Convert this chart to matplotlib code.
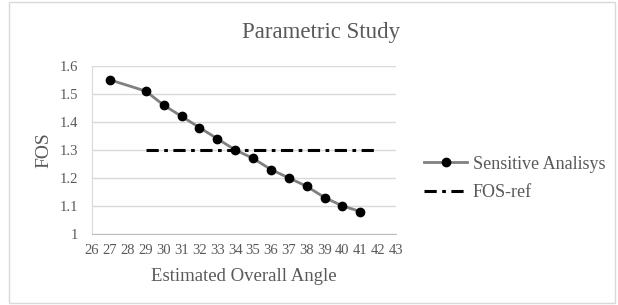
import matplotlib.pyplot as plt
import numpy as np

plt.rcParams['font.family'] = ['Liberation Serif', 'DejaVu Serif']

# Sensitive analysis values
angle = [27, 29, 30, 31, 32, 33, 34, 35, 36, 37, 38, 39, 40, 41]
fos = [1.55, 1.51, 1.46, 1.42, 1.38, 1.34, 1.30, 1.27, 1.23, 1.20, 1.17, 1.13, 1.10, 1.08]

# reference FOS line
ref_angle = [29, 42]
ref_fos = [1.3, 1.3]

xticks = np.arange(26, 44, 1)
yticks = [1, 1.1, 1.2, 1.3, 1.4, 1.5, 1.6]
ytick_labels = ["1", "1.1", "1.2", "1.3", "1.4", "1.5", "1.6"]

fig = plt.figure(figsize=(6.18, 3.05), dpi=100)
ax = fig.add_axes([0.149, 0.233, 0.492, 0.551])

ax.plot(angle, fos, color="#808080", lw=2, marker="o", markersize=6,
        markerfacecolor="black", markeredgecolor="black", label="Sensitive Analisys", zorder=3)
ax.plot(ref_angle, ref_fos, color="black", lw=2.2, linestyle=(0, (4, 1.8, 1.2, 1.8)),
        label="FOS-ref", zorder=2)

ax.set_xlim(26, 43)
ax.set_ylim(1, 1.6)
ax.set_xticks(xticks)
ax.set_xticklabels([str(t) for t in xticks], fontsize=10.5, color="#595959")
ax.set_yticks(yticks)
ax.set_yticklabels(ytick_labels, fontsize=10.5, color="#595959")
ax.tick_params(axis="y", length=0, pad=10)
ax.tick_params(axis="x", length=0, pad=7)
ax.grid(axis="y", color="#d9d9d9", lw=1)
ax.set_axisbelow(True)
for s in ["top", "right"]:
    ax.spines[s].set_visible(False)
ax.spines["left"].set_color("#d9d9d9")
ax.spines["bottom"].set_color("#bfbfbf")

ax.set_xlabel("Estimated Overall Angle", fontsize=13.5, color="#595959", labelpad=8)
ax.set_ylabel("FOS", fontsize=14, color="#595959", labelpad=5)
fig.text(0.52, 0.893, "Parametric Study", fontsize=16.5, color="#595959", ha="center", va="center")

leg = fig.legend(loc="center left", bbox_to_anchor=(0.66, 0.415), frameon=False,
                 fontsize=13, handlelength=2.4, labelspacing=0.65, handletextpad=0.3)
for t in leg.get_texts():
    t.set_color("#595959")

# chart-area border
fig.add_artist(plt.Rectangle((0.015, 0.005), 0.98, 0.99, transform=fig.transFigure,
                             fill=False, edgecolor="#d9d9d9", lw=1))

fig.savefig("out.png", dpi=100)
